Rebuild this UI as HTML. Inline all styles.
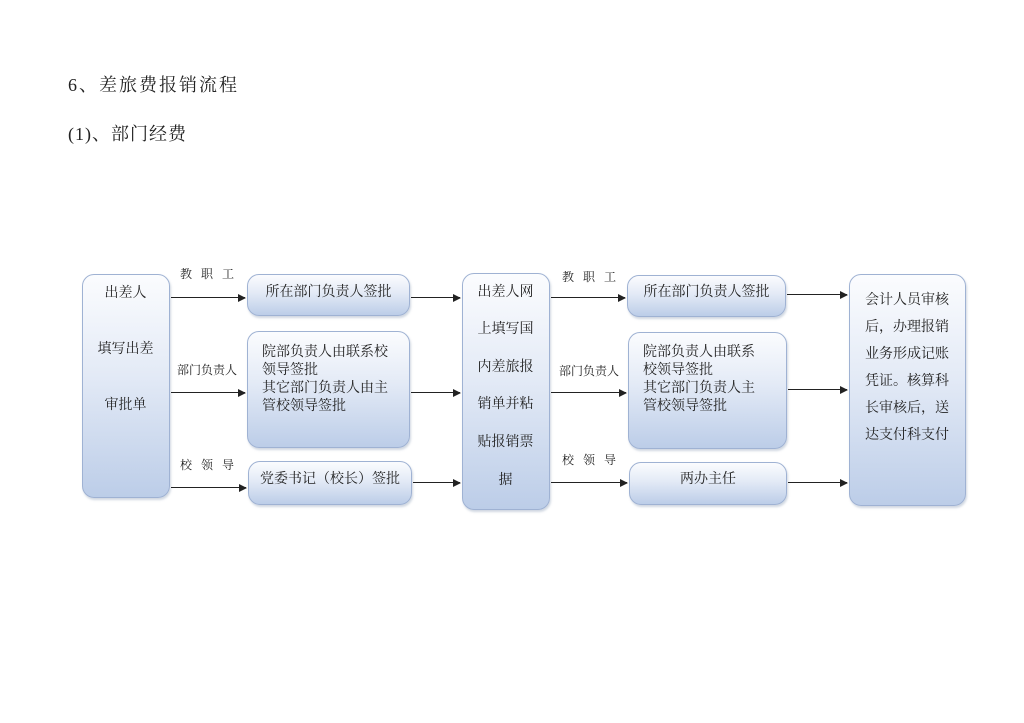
<!DOCTYPE html>
<html><head><meta charset="utf-8"><style>
body{margin:0;width:1024px;height:723px;background:#fff;position:relative;overflow:hidden;font-family:"Liberation Serif","Noto Serif CJK SC",serif;color:#222}
.t{position:absolute;white-space:nowrap}
.b{position:absolute;box-sizing:border-box;border:1.5px solid #9fb2d3;border-radius:12px;background:linear-gradient(#fbfcfe 0%,#e3eaf6 45%,#bccde8 100%);box-shadow:1px 2px 2px rgba(120,140,170,.35);font-size:14px;line-height:18px}
.l{position:absolute;height:1.3px;background:#222}
.l:after{content:"";position:absolute;right:-1px;top:-3.5px;border-left:8px solid #222;border-top:4px solid transparent;border-bottom:4px solid transparent}
.s{font-size:12px}
</style></head><body>
<div class="t" style="left:68px;top:71px;font-size:18px;letter-spacing:2px">6、差旅费报销流程</div>
<div class="t" style="left:68px;top:120px;font-size:18px;letter-spacing:1px">(1)、部门经费</div>

<div class="b" style="left:82px;top:274px;width:88px;height:224px;text-align:center">
<div class="t" style="left:0;width:85px;top:10px">出差人</div>
<div class="t" style="left:0;width:85px;top:66px">填写出差</div>
<div class="t" style="left:0;width:85px;top:122px">审批单</div></div>

<div class="b" style="left:247px;top:274px;width:163px;height:42px;text-align:center;padding-top:9px">所在部门负责人签批</div>
<div class="b" style="left:247px;top:331px;width:163px;height:117px;padding:12px 0 0 14px">院部负责人由联系校<br>领导签批<br>其它部门负责人由主<br>管校领导签批</div>
<div class="b" style="left:248px;top:461px;width:164px;height:44px;text-align:center;padding-top:9px">党委书记（校长）签批</div>

<div class="b" style="left:462px;top:273px;width:88px;height:237px;text-align:center">
<div class="t" style="left:0;width:85px;top:10px">出差人网</div>
<div class="t" style="left:0;width:85px;top:47px">上填写国</div>
<div class="t" style="left:0;width:85px;top:85px">内差旅报</div>
<div class="t" style="left:0;width:85px;top:122px">销单并粘</div>
<div class="t" style="left:0;width:85px;top:160px">贴报销票</div>
<div class="t" style="left:0;width:85px;top:198px">据</div></div>

<div class="b" style="left:627px;top:275px;width:159px;height:42px;text-align:center;padding-top:8px">所在部门负责人签批</div>
<div class="b" style="left:628px;top:332px;width:159px;height:117px;padding:11px 0 0 14px">院部负责人由联系<br>校领导签批<br>其它部门负责人主<br>管校领导签批</div>
<div class="b" style="left:629px;top:462px;width:158px;height:43px;text-align:center;padding-top:8px">两办主任</div>

<div class="b" style="left:849px;top:274px;width:117px;height:232px;padding:12px 0 0 15px;line-height:27px">会计人员审核<br>后，办理报销<br>业务形成记账<br>凭证。核算科<br>长审核后，送<br>达支付科支付</div>

<div class="t s" style="left:180px;top:265px;letter-spacing:3px">教 职 工</div>
<div class="t s" style="left:177px;top:361px">部门负责人</div>
<div class="t s" style="left:180px;top:456px;letter-spacing:3px">校 领 导</div>
<div class="t s" style="left:562px;top:268px;letter-spacing:3px">教 职 工</div>
<div class="t s" style="left:559px;top:362px">部门负责人</div>
<div class="t s" style="left:562px;top:451px;letter-spacing:3px">校 领 导</div>

<div class="l" style="left:171px;top:297px;width:74px"></div>
<div class="l" style="left:171px;top:392px;width:74px"></div>
<div class="l" style="left:171px;top:487px;width:75px"></div>
<div class="l" style="left:411px;top:297px;width:49px"></div>
<div class="l" style="left:411px;top:392px;width:49px"></div>
<div class="l" style="left:413px;top:482px;width:47px"></div>
<div class="l" style="left:551px;top:297px;width:74px"></div>
<div class="l" style="left:551px;top:392px;width:75px"></div>
<div class="l" style="left:551px;top:482px;width:76px"></div>
<div class="l" style="left:787px;top:294px;width:60px"></div>
<div class="l" style="left:788px;top:389px;width:59px"></div>
<div class="l" style="left:788px;top:482px;width:59px"></div>
</body></html>
